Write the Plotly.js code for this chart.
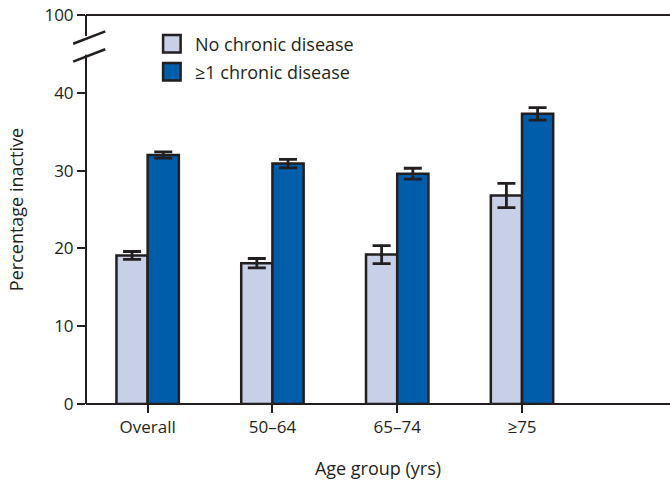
<!DOCTYPE html>
<html>
<head>
<meta charset="utf-8">
<script src="https://cdn.plot.ly/plotly-3.0.1.min.js"></script>
<style>html,body{margin:0;padding:0;background:#fff;overflow:hidden;}#chart{width:670px;height:484px;}</style>
</head>
<body>
<div id="chart"></div>
<script>
// Data
var categories = ["Overall", "50\u201364", "65\u201374", "\u226575"];
var seriesNames = ["No chronic disease", "\u22651 chronic disease"];
var noChronic = [19.1, 18.1, 19.2, 26.8];
var noChronicErr = [0.5, 0.6, 1.15, 1.55];
var withChronic = [32.0, 30.9, 29.6, 37.3];
var withChronicErr = [0.4, 0.55, 0.7, 0.8];
var yTickVals = [0, 10, 20, 30, 40, 50];
var yTickText = ["0", "10", "20", "30", "40", "100"];

var ink = "#231F20";
var colors = ["#C7D0E7", "#005DAA"];
var font = "Open Sans, sans-serif";

function bar(name, y, err, color) {
  return {
    type: "bar", name: name, x: categories, y: y,
    marker: {color: color, line: {color: ink, width: 2.5}},
    error_y: {type: "data", array: err, visible: true, color: ink, thickness: 2.8, width: 9},
    showlegend: false, hoverinfo: "skip", cliponaxis: false
  };
}

var data = [
  bar(seriesNames[0], noChronic, noChronicErr, colors[0]),
  bar(seriesNames[1], withChronic, withChronicErr, colors[1])
];

// frame lines and axis-break markers
var shapes = [
  {type: "rect", xref: "paper", yref: "paper", x0: 0.99, x1: 1.01, y0: 0.004, y1: 0.996, fillcolor: "#fff", line: {width: 0}, layer: "above"},
  {type: "line", xref: "paper", yref: "paper", x0: 0, x1: 1.01, y0: 1, y1: 1, line: {color: ink, width: 2}, layer: "above"},
  {type: "line", xref: "paper", yref: "paper", x0: 0, x1: 1.01, y0: 0, y1: 0, line: {color: ink, width: 2}, layer: "above"},
  {type: "line", xref: "paper", yref: "paper", x0: 0, x1: 0, y0: 0, y1: 1, line: {color: ink, width: 2}, layer: "above"},
  {type: "rect", xref: "paper", yref: "y", x0: -0.01, x1: 0.01, y0: 44.9, y1: 47.3, fillcolor: "#fff", line: {width: 0}, layer: "above"},
  {type: "line", xref: "paper", yref: "y", x0: -0.022, x1: 0.033, y0: 46.3, y1: 47.9, line: {color: ink, width: 2.5}, layer: "above"},
  {type: "line", xref: "paper", yref: "y", x0: -0.022, x1: 0.033, y0: 44.0, y1: 45.6, line: {color: ink, width: 2.5}, layer: "above"}
];
var annotations = [];
// custom legend
var legY = [46.3, 42.7];
for (var i = 0; i < 2; i++) {
  shapes.push({type: "rect", xref: "paper", yref: "y",
    x0: 0.132, x1: 0.162, y0: legY[i] - 1.12, y1: legY[i] + 1.12,
    fillcolor: colors[i], line: {color: ink, width: 2.5}, layer: "above"});
  annotations.push({xref: "paper", yref: "y", x: 0.183, y: legY[i], xanchor: "left", yanchor: "middle",
    text: seriesNames[i], showarrow: false, font: {family: font, size: 18, color: ink}});
}

var layout = {
  width: 670, height: 484,
  margin: {l: 86, r: 0, t: 15, b: 80},
  paper_bgcolor: "#fff", plot_bgcolor: "#fff",
  barmode: "group", bargap: 0.5, bargroupgap: 0,
  font: {family: font, size: 17, color: ink},
  xaxis: {
    type: "category", range: [-0.494, 4.186],
    showline: false, mirror: false,
    ticks: "outside", ticklen: 8, tickwidth: 2, tickcolor: ink,
    showgrid: false, zeroline: false,
    tickfont: {family: font, size: 17, color: ink},
    title: {text: "Age group (yrs)", font: {family: font, size: 18, color: ink}, standoff: 24}
  },
  yaxis: {
    range: [0, 50], tickvals: yTickVals, ticktext: yTickText,
    showline: false, mirror: false,
    ticks: "outside", ticklen: 8, tickwidth: 2, tickcolor: ink,
    showgrid: false, zeroline: false,
    tickfont: {family: font, size: 17, color: ink},
    title: {text: "Percentage inactive", font: {family: font, size: 18, color: ink}, standoff: 16}
  },
  shapes: shapes,
  annotations: annotations
};

Plotly.newPlot("chart", data, layout, {staticPlot: true, displayModeBar: false});
</script>
</body>
</html>
